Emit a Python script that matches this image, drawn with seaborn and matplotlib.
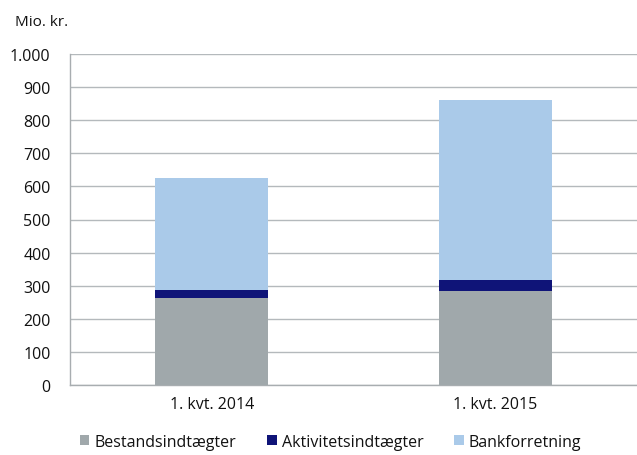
import matplotlib
matplotlib.use("Agg")
import pandas as pd
import seaborn as sns
from matplotlib import pyplot as plt
from matplotlib.patches import Patch
from matplotlib.ticker import FuncFormatter, MultipleLocator

quarters = ["1. kvt. 2014", "1. kvt. 2015"]
bestand = [262, 283]
aktivitet = [24, 35]
bank = [340, 543]

series = ["Bestandsindtægter", "Aktivitetsindtægter", "Bankforretning"]
colors = ["#a0a8ab", "#0f1478", "#aacae9"]

sns.set_style("white")
plt.rcParams["font.family"] = ["Open Sans", "DejaVu Sans"]

df = pd.DataFrame(
    {"Kvartal": quarters, "Bestandsindtægter": bestand,
     "Aktivitetsindtægter": aktivitet, "Bankforretning": bank}
)
# cumulative layers, drawn tallest first so the lower ones sit on top
df["c1"] = df["Bestandsindtægter"]
df["c2"] = df["c1"] + df["Aktivitetsindtægter"]
df["c3"] = df["c2"] + df["Bankforretning"]

fig = plt.figure(figsize=(6.37, 4.56), dpi=100)
ax = fig.add_axes([70 / 637, 70 / 456, 567 / 637, 331 / 456])

for col, color in zip(["c3", "c2", "c1"], colors[::-1]):
    sns.barplot(data=df, x="Kvartal", y=col, color=color, width=0.4,
                saturation=1, linewidth=0, ax=ax, zorder=3)

ax.set_ylim(0, 1000)
ax.yaxis.set_major_locator(MultipleLocator(100))
ax.yaxis.set_major_formatter(FuncFormatter(lambda v, p: f"{int(v):,}".replace(",", ".")))
ax.grid(axis="y", color="#b4b9bc", linewidth=1, zorder=0)
ax.set_axisbelow(True)
ax.set_xlabel("")
ax.set_ylabel("")
for s in ["top", "right"]:
    ax.spines[s].set_visible(False)
for s in ["left", "bottom"]:
    ax.spines[s].set_color("#a8adb0")
    ax.spines[s].set_linewidth(1)
ax.tick_params(axis="both", length=0, labelsize=11.5, colors="#111111")
ax.tick_params(axis="y", pad=14)
ax.tick_params(axis="x", pad=8)

fig.text(15 / 637, 1 - 22 / 456, "Mio. kr.", fontsize=11, va="center", color="#111111")

handles = [Patch(facecolor=c, edgecolor="none") for c in colors]
fig.legend(handles, series, loc="center", bbox_to_anchor=(0.519, 1 - 443 / 456),
           ncol=3, frameon=False, fontsize=11.5, handlelength=0.6, handleheight=0.6,
           handletextpad=0.3, columnspacing=1.95, labelcolor="#111111")

fig.savefig("out.png", dpi=100)
